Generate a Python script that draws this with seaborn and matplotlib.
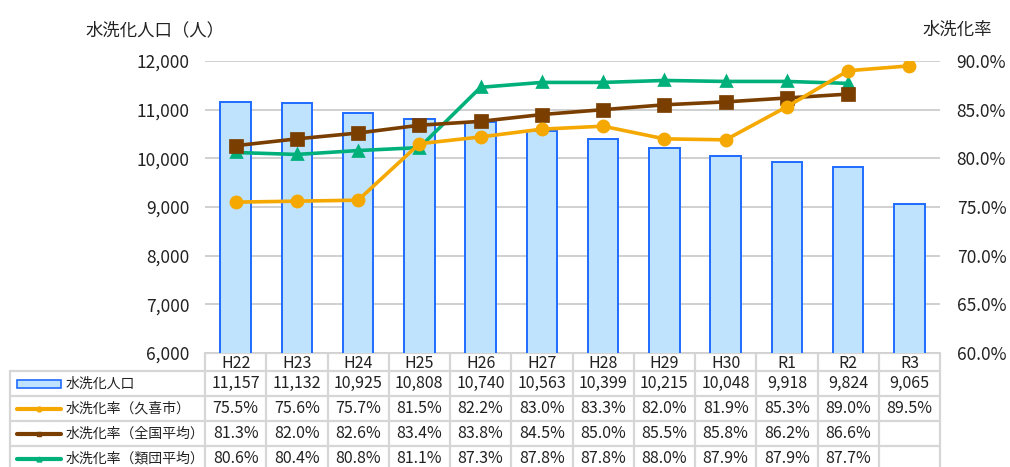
import numpy as np
import pandas as pd
import matplotlib
matplotlib.use("Agg")
import matplotlib.pyplot as plt
import seaborn as sns

categories = ["H22", "H23", "H24", "H25", "H26", "H27", "H28", "H29", "H30", "R1", "R2", "R3"]
population = [11157, 11132, 10925, 10808, 10740, 10563, 10399, 10215, 10048, 9918, 9824, 9065]
rate_kuki = [75.5, 75.6, 75.7, 81.5, 82.2, 83.0, 83.3, 82.0, 81.9, 85.3, 89.0, 89.5]
rate_national = [81.3, 82.0, 82.6, 83.4, 83.8, 84.5, 85.0, 85.5, 85.8, 86.2, 86.6, np.nan]
rate_similar = [80.6, 80.4, 80.8, 81.1, 87.3, 87.8, 87.8, 88.0, 87.9, 87.9, 87.7, np.nan]

row_labels = ["水洗化人口", "水洗化率（久喜市）", "水洗化率（全国平均）", "水洗化率（類団平均）"]
left_title = "水洗化人口（人）"
right_title = "水洗化率"

sns.set_theme(style="white")
plt.rcParams["font.family"] = ["Noto Sans CJK JP", "DejaVu Sans"]

W, H = 1010, 467
fig = plt.figure(figsize=(W / 100, H / 100), dpi=100)

# plot area in pixels
px0, px1, py0, py1 = 205, 940, 61, 353
ax = fig.add_axes([px0 / W, 1 - py1 / H, (px1 - px0) / W, (py1 - py0) / H])

bar_face = "#BFE3FC"
bar_edge = "#1F6BFF"
c_kuki = "#F5A800"
c_nat = "#7A3E00"
c_sim = "#00B07A"
grid_c = "#C8C8C8"
text_c = "#222222"

df = pd.DataFrame({"cat": categories, "pop": population,
                   "kuki": rate_kuki, "nat": rate_national, "sim": rate_similar})

sns.barplot(data=df, x="cat", y="pop", order=categories, color=bar_face,
            saturation=1, width=0.5, edgecolor=bar_edge, linewidth=1.4, ax=ax, zorder=2)
ax.set_ylim(6000, 12000)
ax.set_xlim(-0.5, len(categories) - 0.5)
ax.set_yticks(np.arange(6000, 12001, 1000))
ax.set_yticklabels([f"{v:,}" for v in range(6000, 12001, 1000)], fontsize=12.5, color=text_c)
ax.tick_params(axis="y", length=0, pad=11)
ax.set_xticks([])
ax.set_xlabel("")
ax.set_ylabel("")
ax.grid(axis="y", color=grid_c, linewidth=1.2, zorder=0)
ax.set_axisbelow(True)
for s in ax.spines.values():
    s.set_visible(False)

ax2 = ax.twinx()
for col, colr, mk, ms in [("sim", c_sim, "^", 7.5), ("nat", c_nat, "s", 8), ("kuki", c_kuki, "o", 8)]:
    sns.pointplot(data=df, x="cat", y=col, order=categories, color=colr, marker=mk,
                  markersize=ms, linewidth=2.6, errorbar=None, ax=ax2)
ax2.set_ylim(60, 90)
ax2.set_xlim(-0.5, len(categories) - 0.5)
ax2.set_yticks(np.arange(60, 90.1, 5))
ax2.set_yticklabels([f"{v:.1f}%" for v in np.arange(60, 90.1, 5)], fontsize=12.5, color=text_c)
ax2.tick_params(axis="y", length=0, pad=12)
ax2.set_xticks([])
ax2.set_xlabel("")
ax2.set_ylabel("")
for s in ax2.spines.values():
    s.set_visible(False)

fig.text(155 / W, 1 - 30 / H, left_title, ha="center", va="center", fontsize=12.5, color=text_c)
fig.text(957 / W, 1 - 30 / H, right_title, ha="center", va="center", fontsize=12.5, color=text_c)

# data table
axt = fig.add_axes([0, 0, 1, 1], zorder=-1)
axt.set_xlim(0, W)
axt.set_ylim(H, 0)
axt.axis("off")
n = len(categories)
colw = (px1 - px0) / n
lx0 = 10
hdr_top, hdr_bot = py1, 371
rowh = 25
row_tops = [hdr_bot + i * rowh for i in range(len(row_labels) + 1)]
tc = "#D6D6D6"
lw = 1.6
axt.plot([px0, px1], [hdr_top, hdr_top], color=tc, lw=lw)
for yy in row_tops:
    axt.plot([lx0, px1], [yy, yy], color=tc, lw=lw)
axt.plot([lx0, lx0], [hdr_bot, H + 10], color=tc, lw=lw)
for i in range(n + 1):
    xx = px0 + i * colw
    axt.plot([xx, xx], [hdr_top, H + 10], color=tc, lw=lw)

for i, c in enumerate(categories):
    axt.text(px0 + (i + 0.5) * colw, (hdr_top + hdr_bot) / 2 + 1, c, ha="center", va="center",
             fontsize=11.5, color=text_c)

rows = [[f"{v:,}" for v in population],
        [f"{v:.1f}%" for v in rate_kuki],
        ["" if np.isnan(v) else f"{v:.1f}%" for v in rate_national],
        ["" if np.isnan(v) else f"{v:.1f}%" for v in rate_similar]]
for r, vals in enumerate(rows):
    yc = row_tops[r] + rowh / 2
    for i, t in enumerate(vals):
        axt.text(px0 + (i + 0.5) * colw, yc, t, ha="center", va="center", fontsize=11.5, color=text_c)
    axt.text(66, yc, row_labels[r], ha="left", va="center", fontsize=10, color=text_c)
    kx0, kx1 = 17, 61
    if r == 0:
        axt.add_patch(plt.Rectangle((kx0, yc - 4), kx1 - kx0, 8, facecolor=bar_face,
                                    edgecolor=bar_edge, lw=1.2))
    else:
        colr, mk = [(c_kuki, "o"), (c_nat, "s"), (c_sim, "^")][r - 1]
        axt.plot([kx0, kx1], [yc, yc], color=colr, lw=3, solid_capstyle="round")
        axt.plot([(kx0 + kx1) / 2], [yc], color=colr, marker=mk, markersize=3.5)

fig.savefig("out.png", dpi=100)
